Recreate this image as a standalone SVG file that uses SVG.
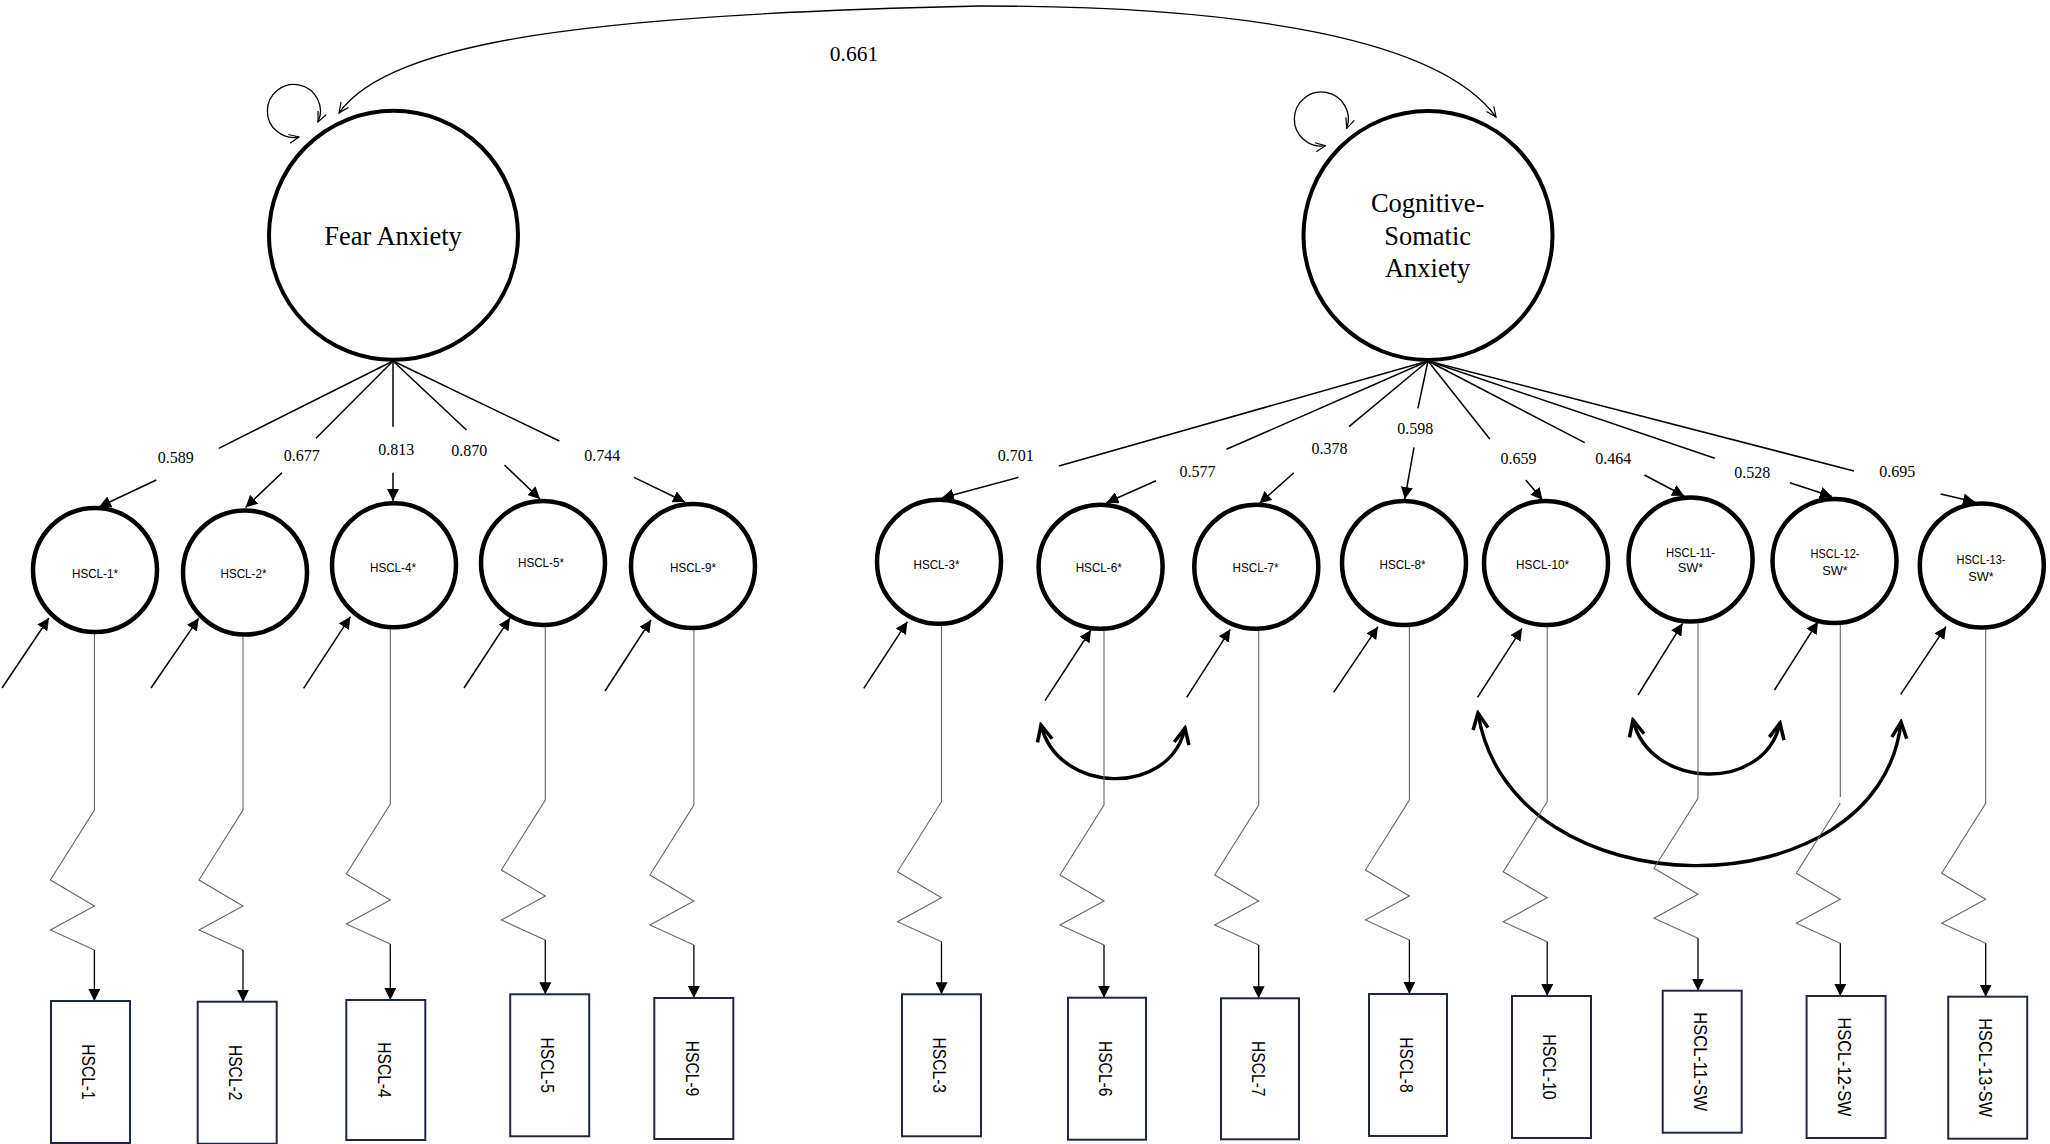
<svg xmlns="http://www.w3.org/2000/svg" width="2050" height="1144" viewBox="0 0 2050 1144">
<style>
.lat{fill:#fff;stroke:#000;stroke-width:4}
.obs{fill:#fff;stroke:#000;stroke-width:4.5}
.box{fill:#fff;stroke:#1f2747;stroke-width:2}
.ltxt{font-family:"Liberation Serif","Times New Roman",serif;font-size:26.5px;fill:#000;text-anchor:middle}
.num{font-family:"Liberation Serif","Times New Roman",serif;font-size:16px;fill:#000;text-anchor:middle}
.otxt{font-family:"Liberation Sans",Arial,sans-serif;font-size:13.5px;fill:#000;text-anchor:middle}
.btxt{font-family:"Liberation Sans",Arial,sans-serif;font-size:17.5px;fill:#000;text-anchor:middle}
.load{fill:none;stroke:#000;stroke-width:1.5}
.res{fill:none;stroke:#000;stroke-width:1.5}
.zig{fill:none;stroke:#666;stroke-width:1.1}
.err{fill:none;stroke:#000;stroke-width:1.3}
.thin{fill:none;stroke:#000;stroke-width:1.3}
.cov{fill:none;stroke:#000;stroke-width:3.4}
</style>
<defs>
<marker id="tri" viewBox="0 0 12 12" refX="12" refY="6" markerWidth="12" markerHeight="12" markerUnits="userSpaceOnUse" orient="auto"><path d="M0,0 L12,6 L0,12 z" fill="#000"/></marker>
<marker id="vthin" viewBox="0 0 12 12" refX="11" refY="6" markerWidth="12" markerHeight="12" markerUnits="userSpaceOnUse" orient="auto-start-reverse"><path d="M1,1.5 L11,6 L1,10.5" fill="none" stroke="#000" stroke-width="1.2"/></marker>
<marker id="vthick" viewBox="0 0 20 20" refX="17" refY="10" markerWidth="20" markerHeight="20" markerUnits="userSpaceOnUse" orient="auto-start-reverse"><path d="M1,2.5 L17,10 L1,17.5" fill="none" stroke="#000" stroke-width="3.5"/></marker>
</defs>

<g id="connectors">
<path class="thin" d="M339,113 C390,40 600,14 980,6 C1250,6 1440,40 1496,117" marker-start="url(#vthin)" marker-end="url(#vthin)"/>
<path class="thin" d="M299,137 A26.5,26.5 0 1 1 318,122" marker-start="url(#vthin)" marker-end="url(#vthin)"/>
<path class="thin" d="M1325.5,145.7 A27,27 0 1 1 1346.7,128.3" marker-start="url(#vthin)" marker-end="url(#vthin)"/>

<path class="load" d="M393,361 L218.75,448.3"/><path class="load" d="M156.25,480 L99,507" marker-end="url(#tri)"/>
<path class="load" d="M393,361 L316,438.3"/><path class="load" d="M282,472.7 L245.5,507.5" marker-end="url(#tri)"/>
<path class="load" d="M393,361 L393,426.7"/><path class="load" d="M393,472.7 L393,501" marker-end="url(#tri)"/>
<path class="load" d="M393,361 L466.5,430"/><path class="load" d="M504.5,465 L540,499" marker-end="url(#tri)"/>
<path class="load" d="M393,361 L559.4,441"/><path class="load" d="M634,477.3 L685,502" marker-end="url(#tri)"/>

<path class="load" d="M1428,361 L1058.9,466"/><path class="load" d="M1018.4,477.3 L941.8,498" marker-end="url(#tri)"/>
<path class="load" d="M1428,361 L1226.5,449.3"/><path class="load" d="M1156,480.7 L1106.4,502.7" marker-end="url(#tri)"/>
<path class="load" d="M1428,361 L1349,426.7"/><path class="load" d="M1293.9,472.7 L1259.4,503.5" marker-end="url(#tri)"/>
<path class="load" d="M1428,361 L1417.9,408.3"/><path class="load" d="M1414,447.3 L1404.8,499" marker-end="url(#tri)"/>
<path class="load" d="M1428,361 L1489.8,439"/><path class="load" d="M1525.8,480 L1542.6,500" marker-end="url(#tri)"/>
<path class="load" d="M1428,361 L1584.7,442.7"/><path class="load" d="M1644.4,475 L1684.2,496" marker-end="url(#tri)"/>
<path class="load" d="M1428,361 L1714.8,458.3"/><path class="load" d="M1789.8,482.7 L1831.9,496.5" marker-end="url(#tri)"/>
<path class="load" d="M1428,361 L1854,471"/><path class="load" d="M1940.6,494 L1975,502" marker-end="url(#tri)"/>

<path class="res" d="M2,688 L49,618" marker-end="url(#tri)"/>
<path class="res" d="M151,688 L198.7,618.3" marker-end="url(#tri)"/>
<path class="res" d="M303.6,688.3 L350.4,616.7" marker-end="url(#tri)"/>
<path class="res" d="M464,688 L510,618" marker-end="url(#tri)"/>
<path class="res" d="M605,691 L651,620" marker-end="url(#tri)"/>
<path class="res" d="M863.8,688.3 L907.4,621.7" marker-end="url(#tri)"/>
<path class="res" d="M1045,700.7 L1091,630" marker-end="url(#tri)"/>
<path class="res" d="M1186.7,697.3 L1230.3,629.3" marker-end="url(#tri)"/>
<path class="res" d="M1333.7,692.3 L1378,626.7" marker-end="url(#tri)"/>
<path class="res" d="M1477.5,697.3 L1522,628.3" marker-end="url(#tri)"/>
<path class="res" d="M1638,695 L1682.6,623.3" marker-end="url(#tri)"/>
<path class="res" d="M1774.5,690 L1818,621.7" marker-end="url(#tri)"/>
<path class="res" d="M1900.7,694.3 L1946,626.7" marker-end="url(#tri)"/>

<path class="cov" d="M1041,725 C1058,795 1170,797 1185,728" marker-start="url(#vthick)" marker-end="url(#vthick)"/>
<path class="cov" d="M1633,720 C1650,790 1765,793 1780,723" marker-start="url(#vthick)" marker-end="url(#vthick)"/>
<path class="cov" d="M1478,713 C1510,915 1880,915 1901,722" marker-start="url(#vthick)" marker-end="url(#vthick)"/>

<path class="zig" d="M94.4,634 V810 L50.4,880 L94.4,906 L50.4,930 L94.4,950"/><path class="err" d="M94.4,950 V1001" marker-end="url(#tri)"/>
<path class="zig" d="M243,636.5 V810 L199,880 L243,906 L199,930 L243,950"/><path class="err" d="M243,950 V1001.7" marker-end="url(#tri)"/>
<path class="zig" d="M390.3,629.3 V804 L346.3,874 L390.3,900 L346.3,924 L390.3,944"/><path class="err" d="M390.3,944 V1000" marker-end="url(#tri)"/>
<path class="zig" d="M545.3,627 V800 L501.3,870 L545.3,896 L501.3,920 L545.3,940"/><path class="err" d="M545.3,940 V994.3" marker-end="url(#tri)"/>
<path class="zig" d="M693.9,630 V805 L649.9,875 L693.9,901 L649.9,925 L693.9,945"/><path class="err" d="M693.9,945 V998" marker-end="url(#tri)"/>
<path class="zig" d="M941.5,625.7 V801.7 L897.5,871.7 L941.5,897.7 L897.5,921.7 L941.5,941.7"/><path class="err" d="M941.5,941.7 V994.3" marker-end="url(#tri)"/>
<path class="zig" d="M1104,630.7 V805 L1060,875 L1104,901 L1060,925 L1104,945"/><path class="err" d="M1104,945 V997.7" marker-end="url(#tri)"/>
<path class="zig" d="M1258.7,630.8 V805 L1214.7,875 L1258.7,901 L1214.7,925 L1258.7,945"/><path class="err" d="M1258.7,945 V998.3" marker-end="url(#tri)"/>
<path class="zig" d="M1409.4,627 V800 L1365.4,870 L1409.4,896 L1365.4,920 L1409.4,940"/><path class="err" d="M1409.4,940 V994" marker-end="url(#tri)"/>
<path class="zig" d="M1547.2,627 V801.7 L1503.2,871.7 L1547.2,897.7 L1503.2,921.7 L1547.2,941.7"/><path class="err" d="M1547.2,941.7 V996" marker-end="url(#tri)"/>
<path class="zig" d="M1698,623.5 V798.3 L1654,868.3 L1698,894.3 L1654,918.3 L1698,938.3"/><path class="err" d="M1698,938.3 V990.7" marker-end="url(#tri)"/>
<path class="zig" d="M1840.3,625 V797 M1840.3,803.3 L1796.3,873.3 L1840.3,899.3 L1796.3,923.3 L1840.3,943.3"/><path class="err" d="M1840.3,943.3 V996" marker-end="url(#tri)"/>
<path class="zig" d="M1985.7,629.5 V803.3 L1941.7,873.3 L1985.7,899.3 L1941.7,923.3 L1985.7,943.3"/><path class="err" d="M1985.7,943.3 V996.7" marker-end="url(#tri)"/>
</g>

<g id="labels">
<text class="num" x="854" y="61" style="font-size:21.5px">0.661</text>
<text class="num" x="175.7" y="463">0.589</text>
<text class="num" x="301.8" y="460.7">0.677</text>
<text class="num" x="396.2" y="455">0.813</text>
<text class="num" x="469.2" y="455.7">0.870</text>
<text class="num" x="602.2" y="460.7">0.744</text>
<text class="num" x="1015.7" y="460.7">0.701</text>
<text class="num" x="1197.4" y="477.3">0.577</text>
<text class="num" x="1329.5" y="454">0.378</text>
<text class="num" x="1415.2" y="434">0.598</text>
<text class="num" x="1518.5" y="464">0.659</text>
<text class="num" x="1613.3" y="464">0.464</text>
<text class="num" x="1752.3" y="478.3">0.528</text>
<text class="num" x="1897.3" y="477.3">0.695</text>
</g>

<g id="fear-anxiety">
<circle class="lat" cx="393.5" cy="235.3" r="124.5"/>
<text class="ltxt" x="393" y="245">Fear Anxiety</text>
</g>
<g id="cognitive-somatic-anxiety">
<circle class="lat" cx="1428" cy="235.5" r="124.5"/>
<text class="ltxt" x="1427.6" y="211.7">Cognitive-</text>
<text class="ltxt" x="1427.6" y="245">Somatic</text>
<text class="ltxt" x="1427.6" y="276.7">Anxiety</text>
</g>

<g id="hscl-1-latent"><circle class="obs" cx="95" cy="570" r="62"/><text class="otxt" x="95" y="577.5" textLength="46" lengthAdjust="spacingAndGlyphs">HSCL-1*</text></g>
<g id="hscl-2-latent"><circle class="obs" cx="245" cy="572.5" r="62"/><text class="otxt" x="243.5" y="577.5" textLength="46" lengthAdjust="spacingAndGlyphs">HSCL-2*</text></g>
<g id="hscl-4-latent"><circle class="obs" cx="394" cy="565.3" r="62"/><text class="otxt" x="393" y="571.5" textLength="46" lengthAdjust="spacingAndGlyphs">HSCL-4*</text></g>
<g id="hscl-5-latent"><circle class="obs" cx="543" cy="563" r="62"/><text class="otxt" x="541" y="566.5" textLength="46" lengthAdjust="spacingAndGlyphs">HSCL-5*</text></g>
<g id="hscl-9-latent"><circle class="obs" cx="693" cy="566" r="62"/><text class="otxt" x="693" y="571.5" textLength="46" lengthAdjust="spacingAndGlyphs">HSCL-9*</text></g>
<g id="hscl-3-latent"><circle class="obs" cx="939" cy="561.7" r="62"/><text class="otxt" x="936.5" y="568.5" textLength="46" lengthAdjust="spacingAndGlyphs">HSCL-3*</text></g>
<g id="hscl-6-latent"><circle class="obs" cx="1100.6" cy="566.7" r="62"/><text class="otxt" x="1098.7" y="571.5" textLength="46" lengthAdjust="spacingAndGlyphs">HSCL-6*</text></g>
<g id="hscl-7-latent"><circle class="obs" cx="1256.3" cy="566.8" r="62"/><text class="otxt" x="1255.6" y="572" textLength="46" lengthAdjust="spacingAndGlyphs">HSCL-7*</text></g>
<g id="hscl-8-latent"><circle class="obs" cx="1404" cy="563" r="62"/><text class="otxt" x="1402.5" y="568.5" textLength="46" lengthAdjust="spacingAndGlyphs">HSCL-8*</text></g>
<g id="hscl-10-latent"><circle class="obs" cx="1546" cy="563" r="62"/><text class="otxt" x="1542.6" y="568.5" textLength="53" lengthAdjust="spacingAndGlyphs">HSCL-10*</text></g>
<g id="hscl-11-sw-latent"><circle class="obs" cx="1690.6" cy="559.5" r="62"/><text class="otxt" x="1690.5" y="556.5" textLength="49" lengthAdjust="spacingAndGlyphs">HSCL-11-</text><text class="otxt" x="1690.5" y="572" textLength="25.5" lengthAdjust="spacingAndGlyphs">SW*</text></g>
<g id="hscl-12-sw-latent"><circle class="obs" cx="1834.5" cy="561" r="62"/><text class="otxt" x="1835" y="557.5" textLength="49" lengthAdjust="spacingAndGlyphs">HSCL-12-</text><text class="otxt" x="1835" y="574.5" textLength="25.5" lengthAdjust="spacingAndGlyphs">SW*</text></g>
<g id="hscl-13-sw-latent"><circle class="obs" cx="1981.8" cy="565.5" r="62"/><text class="otxt" x="1981" y="564" textLength="49" lengthAdjust="spacingAndGlyphs">HSCL-13-</text><text class="otxt" x="1981" y="580.5" textLength="25.5" lengthAdjust="spacingAndGlyphs">SW*</text></g>

<g id="hscl-1"><rect class="box" x="51" y="1001" width="79" height="142"/><text class="btxt" transform="translate(82.2,1072) rotate(90)" textLength="55.5" lengthAdjust="spacingAndGlyphs">HSCL-1</text></g>
<g id="hscl-2"><rect class="box" x="197.7" y="1001.7" width="79" height="142"/><text class="btxt" transform="translate(228.9,1072.7) rotate(90)" textLength="55.5" lengthAdjust="spacingAndGlyphs">HSCL-2</text></g>
<g id="hscl-4"><rect class="box" x="346.3" y="1000" width="79" height="140"/><text class="btxt" transform="translate(377.5,1070) rotate(90)" textLength="55.5" lengthAdjust="spacingAndGlyphs">HSCL-4</text></g>
<g id="hscl-5"><rect class="box" x="510.2" y="994.3" width="79" height="142"/><text class="btxt" transform="translate(541.4,1065.3) rotate(90)" textLength="55.5" lengthAdjust="spacingAndGlyphs">HSCL-5</text></g>
<g id="hscl-9"><rect class="box" x="654.3" y="998" width="79" height="141"/><text class="btxt" transform="translate(685.5,1068.5) rotate(90)" textLength="55.5" lengthAdjust="spacingAndGlyphs">HSCL-9</text></g>
<g id="hscl-3"><rect class="box" x="902" y="994.3" width="79" height="142"/><text class="btxt" transform="translate(933.2,1065.3) rotate(90)" textLength="55.5" lengthAdjust="spacingAndGlyphs">HSCL-3</text></g>
<g id="hscl-6"><rect class="box" x="1068" y="997.7" width="78" height="142"/><text class="btxt" transform="translate(1099,1068.7) rotate(90)" textLength="55.5" lengthAdjust="spacingAndGlyphs">HSCL-6</text></g>
<g id="hscl-7"><rect class="box" x="1221" y="998.3" width="78" height="141"/><text class="btxt" transform="translate(1252,1068.8) rotate(90)" textLength="55.5" lengthAdjust="spacingAndGlyphs">HSCL-7</text></g>
<g id="hscl-8"><rect class="box" x="1369" y="994" width="78" height="142"/><text class="btxt" transform="translate(1400,1065) rotate(90)" textLength="55.5" lengthAdjust="spacingAndGlyphs">HSCL-8</text></g>
<g id="hscl-10"><rect class="box" x="1512" y="996" width="79" height="142"/><text class="btxt" transform="translate(1543.2,1067) rotate(90)" textLength="65.4" lengthAdjust="spacingAndGlyphs">HSCL-10</text></g>
<g id="hscl-11-sw"><rect class="box" x="1662.7" y="990.7" width="79" height="142"/><text class="btxt" transform="translate(1693.9,1061.7) rotate(90)" textLength="99" lengthAdjust="spacingAndGlyphs">HSCL-11-SW</text></g>
<g id="hscl-12-sw"><rect class="box" x="1806.6" y="996" width="79" height="142"/><text class="btxt" transform="translate(1837.8,1067) rotate(90)" textLength="99" lengthAdjust="spacingAndGlyphs">HSCL-12-SW</text></g>
<g id="hscl-13-sw"><rect class="box" x="1948.2" y="996.7" width="79" height="142"/><text class="btxt" transform="translate(1979.4,1067.7) rotate(90)" textLength="99" lengthAdjust="spacingAndGlyphs">HSCL-13-SW</text></g>
</svg>
